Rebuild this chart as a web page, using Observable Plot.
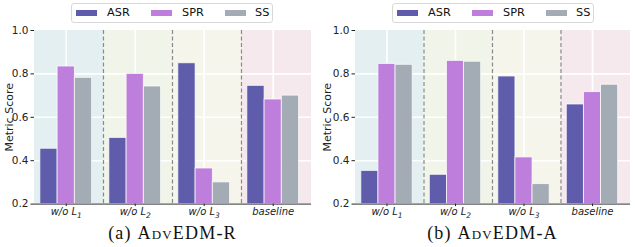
<!DOCTYPE html>
<html>
<head>
<meta charset="utf-8">
<script src="https://cdn.jsdelivr.net/npm/d3@7"></script>
<script src="https://cdn.jsdelivr.net/npm/@observablehq/plot@0.6"></script>
<style>
  html, body { margin: 0; padding: 0; background: #fff; }
  #root { position: relative; width: 635px; height: 247px; overflow: hidden; font-family: "DejaVu Sans", sans-serif; }
  .panel { position: absolute; top: 0; }
  .legend { position: absolute; top: 3px; width: 202px; height: 20px; border: 1px solid #d8d8d8; border-radius: 3px; background: #fff;
            font-size: 11.3px; color: #111; box-sizing: border-box; }
  .legend .sw { position: absolute; top: 6px; width: 21px; height: 6px; }
  .legend .lab { position: absolute; top: 1.5px; line-height: 14px; }
  .caption { position: absolute; top: 223.5px; width: 317px; text-align: center; font-family: "Liberation Serif", "DejaVu Serif", serif;
             font-size: 18px; letter-spacing: 1.2px; line-height: 1; color: #111; white-space: nowrap; }
  .sc { font-variant: small-caps; }
</style>
</head>
<body>
<div id="root"></div>
<script>
// ---- data ----
const categories = ["w/o L\u2081", "w/o L\u2082", "w/o L\u2083", "baseline"];
const seriesNames = ["ASR", "SPR", "SS"];
const seriesColors = ["#5f5cab", "#bd7fdb", "#a3abb4"];
const bandColors = ["#e3eff1", "#f1f4e9", "#f5f5ec", "#f6e9ee"];
const yTicks = [0.2, 0.4, 0.6, 0.8, 1.0];

// (a) AdvEDM-R
const asrR = [0.455, 0.505, 0.849, 0.745];
const sprR = [0.834, 0.800, 0.364, 0.682];
const ssR  = [0.782, 0.742, 0.300, 0.700];
// (b) AdvEDM-A
const asrA = [0.353, 0.335, 0.788, 0.659];
const sprA = [0.846, 0.860, 0.415, 0.716];
const ssA  = [0.842, 0.856, 0.292, 0.750];

const panels = [
  {left: 0,   marginLeft: 34, marginRight: 6, values: [asrR, sprR, ssR], prefix: "(a) ", name: "AdvEDM-R", legendLeft: 71},
  {left: 318, marginLeft: 37, marginRight: 5, values: [asrA, sprA, ssA], prefix: "(b) ", name: "AdvEDM-A", legendLeft: 392}
];

const barW = 0.25;
const xDomain = [-0.46, 3.555];
const sepOffset = 0.54;
const root = document.getElementById("root");
const subDigits = {"\u2081": "1", "\u2082": "2", "\u2083": "3"};

for (const p of panels) {
  const rows = [];
  p.values.forEach((vals, s) => vals.forEach((v, i) => rows.push({
    cat: i, series: s, value: v,
    x1: i + (s - 1) * barW - barW / 2, x2: i + (s - 1) * barW + barW / 2
  })));
  const bands = categories.map((c, i) => ({
    i, x1: i === 0 ? xDomain[0] : i - 1 + sepOffset,
    x2: i === categories.length - 1 ? xDomain[1] : i + sepOffset
  }));
  const seps = categories.slice(1).map((c, i) => i + sepOffset);
  const yMin = yTicks[0], yMax = yTicks[yTicks.length - 1];

  const chart = Plot.plot({
    width: 317, height: 222,
    marginLeft: p.marginLeft, marginRight: p.marginRight, marginTop: 30, marginBottom: 18.4,
    style: {fontFamily: "DejaVu Sans, sans-serif", fontSize: "10.5px", color: "#222", background: "transparent"},
    x: {domain: xDomain},
    y: {domain: [yMin, yMax]},
    marks: [
      Plot.rect(bands, {x1: "x1", x2: "x2", y1: yMin, y2: yMax, fill: (d) => bandColors[d.i]}),
      Plot.gridY(yTicks.slice(1, -1), {stroke: "#fff", strokeOpacity: 1, strokeWidth: 1.6}),
      Plot.gridX(categories.map((c, i) => i), {stroke: "#fff", strokeOpacity: 1, strokeWidth: 1.6}),
      Plot.ruleX(seps, {stroke: "#8a8a8a", strokeWidth: 1.2, strokeDasharray: "4,2.5"}),
      Plot.rect(rows, {x1: "x1", x2: "x2", y1: yMin, y2: "value", fill: (d) => seriesColors[d.series],
                       stroke: "#fff", strokeWidth: 0.9, strokeOpacity: 0.8}),
      Plot.ruleY([yMin], {stroke: "#333", strokeWidth: 1}),
      Plot.axisY(yTicks, {tickFormat: ".1f", tickSize: 3.5, tickPadding: 2.5, fontSize: 10.5, label: null}),
      Plot.text(["Metric Score"], {frameAnchor: "left", dx: -(p.marginLeft - 8.5), rotate: -90, fontSize: 11, fill: "#222",
                 textAnchor: "middle", lineAnchor: "middle"}),
      Plot.axisX(categories.map((c, i) => i), {tickFormat: (i) => categories[i], tickSize: 2.5, tickPadding: 1.5,
                 fontStyle: "italic", fontSize: 10, label: null})
    ]
  });
  // render unicode subscript digits as real SVG subscripts
  chart.querySelectorAll('g[aria-label="x-axis tick label"] text').forEach((t) => {
    const s = t.textContent;
    const m = s.match(/[\u2081-\u2083]/);
    if (!m) return;
    const base = s.replace(/[\u2081-\u2083]/g, "");
    t.textContent = base;
    const ts = document.createElementNS("http://www.w3.org/2000/svg", "tspan");
    ts.setAttribute("dy", "2.5");
    ts.setAttribute("font-size", "7.5");
    ts.textContent = subDigits[m[0]];
    t.appendChild(ts);
  });
  chart.classList.add("panel");
  chart.style.left = p.left + "px";
  root.appendChild(chart);

  const leg = document.createElement("div");
  leg.className = "legend";
  leg.style.left = p.legendLeft + "px";
  const swOff = [5, 80, 154], labOff = [36, 111, 184];
  seriesNames.forEach((n, s) => {
    const sw = document.createElement("div");
    sw.className = "sw";
    sw.style.left = (swOff[s] - 1) + "px";
    sw.style.background = seriesColors[s];
    leg.appendChild(sw);
    const lab = document.createElement("div");
    lab.className = "lab";
    lab.style.left = (labOff[s] - 1) + "px";
    lab.textContent = n;
    leg.appendChild(lab);
  });
  root.appendChild(leg);

  const cap = document.createElement("div");
  cap.className = "caption";
  cap.style.left = (p.left + (p.marginLeft + 317 - p.marginRight) / 2 - 317 / 2) + "px";
  cap.innerHTML = p.prefix + '<span class="sc">' + p.name + "</span>";
  root.appendChild(cap);
}
</script>
</body>
</html>
